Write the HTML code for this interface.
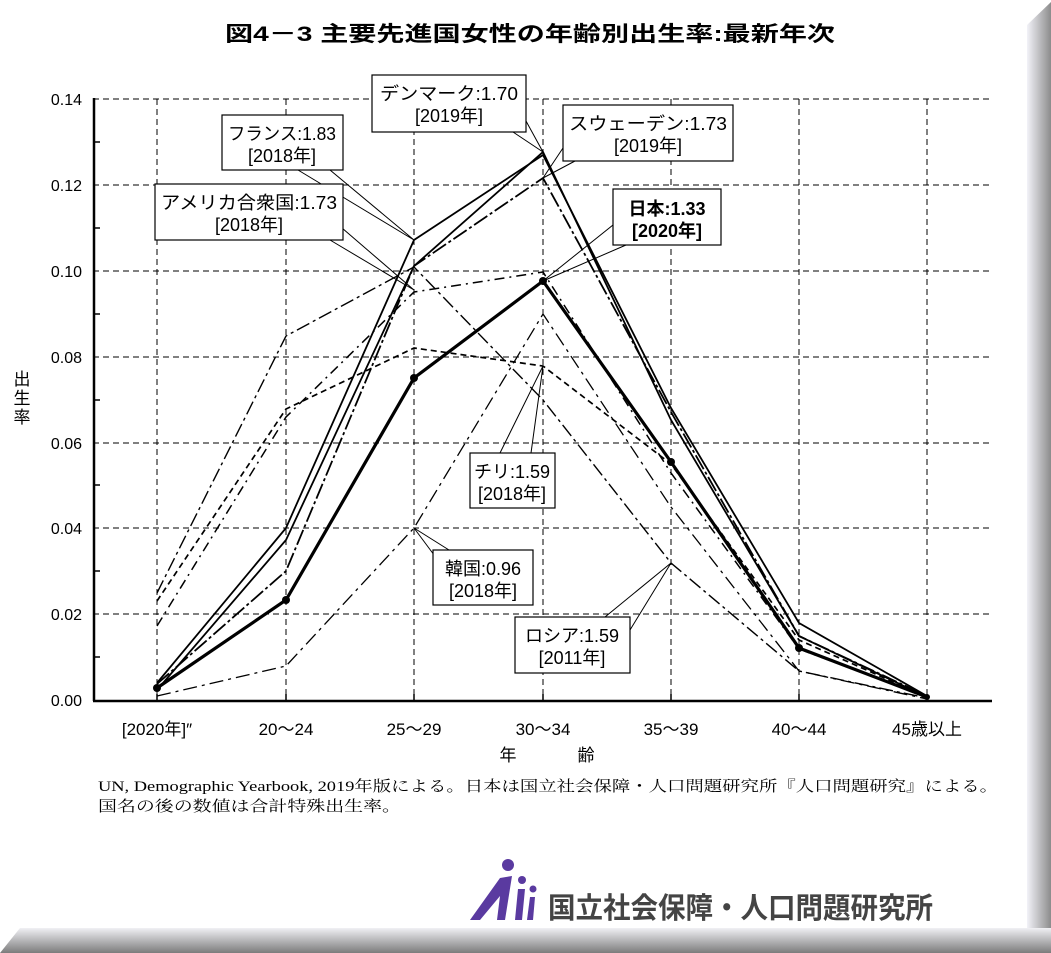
<!DOCTYPE html>
<html><head><meta charset="utf-8"><style>
html,body{margin:0;padding:0;background:#fff;}
svg{display:block;}
text{font-family:"Liberation Sans","Noto Sans CJK JP",sans-serif;fill:#000;}
</style></head><body>
<svg width="1051" height="953" viewBox="0 0 1051 953" xmlns="http://www.w3.org/2000/svg">
<defs>
<linearGradient id="gr" x1="0" x2="1" y1="0" y2="0">
<stop offset="0" stop-color="#f2f2f8"/><stop offset="1" stop-color="#8c8c8c"/></linearGradient>
<linearGradient id="gb" x1="0" x2="0" y1="0" y2="1">
<stop offset="0" stop-color="#f0f0f4"/><stop offset="1" stop-color="#7c7c7c"/></linearGradient>
</defs>
<rect width="1051" height="953" fill="#fff"/>
<polygon points="1027,25 1051,2 1051,953 1027,953" fill="url(#gr)"/>
<polygon points="20,928 1051,928 1051,953 0,953" fill="url(#gb)"/>

<text x="225" y="41" font-size="21" font-weight="bold" textLength="610" lengthAdjust="spacingAndGlyphs">図4－3 主要先進国女性の年齢別出生率:最新年次</text>

<!-- grid -->
<g stroke="#000" stroke-width="1" stroke-dasharray="6,4" fill="none">
<line x1="93" y1="99" x2="992" y2="99"/>
<line x1="93" y1="185" x2="992" y2="185"/>
<line x1="93" y1="271" x2="992" y2="271"/>
<line x1="93" y1="357" x2="992" y2="357"/>
<line x1="93" y1="443" x2="992" y2="443"/>
<line x1="93" y1="528" x2="992" y2="528"/>
<line x1="93" y1="614" x2="992" y2="614"/>
<line x1="157" y1="99" x2="157" y2="700"/>
<line x1="286" y1="99" x2="286" y2="700"/>
<line x1="414" y1="99" x2="414" y2="700"/>
<line x1="543" y1="99" x2="543" y2="700"/>
<line x1="671" y1="99" x2="671" y2="700"/>
<line x1="799" y1="99" x2="799" y2="700"/>
<line x1="927" y1="99" x2="927" y2="700"/>
</g>
<g stroke="#000" stroke-width="2.5">
<line x1="94" y1="98" x2="94" y2="701"/>
<line x1="93" y1="701" x2="992" y2="701"/>
</g>
<g stroke="#000" stroke-width="1.5">
<line x1="94" y1="142" x2="100" y2="142"/><line x1="94" y1="228" x2="100" y2="228"/>
<line x1="94" y1="314" x2="100" y2="314"/><line x1="94" y1="400" x2="100" y2="400"/>
<line x1="94" y1="485" x2="100" y2="485"/><line x1="94" y1="571" x2="100" y2="571"/>
<line x1="94" y1="657" x2="100" y2="657"/>
<line x1="157" y1="694" x2="157" y2="701"/><line x1="286" y1="694" x2="286" y2="701"/>
<line x1="414" y1="694" x2="414" y2="701"/><line x1="543" y1="694" x2="543" y2="701"/>
<line x1="671" y1="694" x2="671" y2="701"/><line x1="799" y1="694" x2="799" y2="701"/>
<line x1="927" y1="694" x2="927" y2="701"/>
</g>
<g font-size="16" text-anchor="end">
<text x="82" y="105">0.14</text><text x="82" y="191">0.12</text><text x="82" y="277">0.10</text>
<text x="82" y="363">0.08</text><text x="82" y="449">0.06</text><text x="82" y="534">0.04</text>
<text x="82" y="620">0.02</text><text x="82" y="706">0.00</text>
</g>
<g font-size="17" text-anchor="middle">
<text x="157" y="735">[2020年]″</text><text x="286" y="735">20～24</text><text x="414" y="735">25～29</text>
<text x="543" y="735">30～34</text><text x="671" y="735">35～39</text><text x="799" y="735">40～44</text>
<text x="927" y="735">45歳以上</text>
<text x="508" y="761">年</text><text x="586" y="761">齢</text>
</g>
<g font-size="17" text-anchor="middle">
<text x="22" y="385">出</text><text x="22" y="404">生</text><text x="22" y="423">率</text>
</g>

<!-- series -->
<g fill="none" stroke="#000" stroke-linejoin="miter">
<polyline points="157,593 286,336 414,267 543,400 671,563 799,671 927,698" stroke-width="1.4" stroke-dasharray="14,4,3,4"/>
<polyline points="157,601 286,409 414,348 543,366 671,464 799,640 927,697" stroke-width="1.7" stroke-dasharray="6,4"/>
<polyline points="157,626 286,417 414,292 543,272 671,473 799,649 927,697" stroke-width="1.5" stroke-dasharray="10,5,2,5"/>
<polyline points="157,696 286,666 414,528 543,314 671,507 799,671 927,699" stroke-width="1.3" stroke-dasharray="14,5,3,5"/>
<polyline points="157,684 286,571 414,266 543,178 671,412 799,636 927,696" stroke-width="1.8" stroke-dasharray="16,3,3,3"/>
<polyline points="157,683 286,528 414,240 543,155 671,408 799,623 927,696" stroke-width="1.8"/>
<polyline points="157,690 286,540 414,266 543,152 671,420 799,636 927,697" stroke-width="1.8"/>
<polyline points="157,688 286,600 414,378 543,281 671,462 799,648 927,697" stroke-width="3.2"/>
</g>
<g fill="#000">
<circle cx="157" cy="688" r="4"/><circle cx="286" cy="600" r="4"/><circle cx="414" cy="378" r="4"/>
<circle cx="543" cy="281" r="4"/><circle cx="671" cy="462" r="4"/><circle cx="799" cy="648" r="4"/><circle cx="927" cy="697" r="3"/>
</g>

<!-- callouts -->
<g stroke="#000" stroke-width="1" fill="none">
<polyline points="513,132 543,152 526,121"/>
<polyline points="298,170 414,240 330,170"/>
<polyline points="563,148 543,178 575,161"/>
<polyline points="613,225 543,281 626,245"/>
<polyline points="330,240 414,290 342,228"/>
<polyline points="500,453 543,366 531,453"/>
<polyline points="449,550 414,528 446,571"/>
<polyline points="605,617 671,563 630,630"/>
</g>
<g fill="#fff" stroke="#000" stroke-width="1.2">
<rect x="372" y="75" width="154" height="57"/>
<rect x="222" y="115" width="121" height="55"/>
<rect x="563" y="105" width="170" height="56"/>
<rect x="613" y="189" width="108" height="56"/>
<rect x="155" y="184" width="188" height="56"/>
<rect x="470" y="453" width="85" height="55"/>
<rect x="433" y="550" width="100" height="55"/>
<rect x="515" y="617" width="115" height="56"/>
</g>
<g font-size="18" text-anchor="middle">
<text x="449" y="100" textLength="138" lengthAdjust="spacingAndGlyphs">デンマーク:1.70</text><text x="449" y="122">[2019年]</text>
<text x="282" y="140" textLength="108" lengthAdjust="spacingAndGlyphs">フランス:1.83</text><text x="282" y="162">[2018年]</text>
<text x="648" y="130" textLength="158" lengthAdjust="spacingAndGlyphs">スウェーデン:1.73</text><text x="648" y="152">[2019年]</text>
<text x="249" y="209" textLength="176" lengthAdjust="spacingAndGlyphs">アメリカ合衆国:1.73</text><text x="249" y="231">[2018年]</text>
<text x="512" y="478">チリ:1.59</text><text x="512" y="500">[2018年]</text>
<text x="483" y="575">韓国:0.96</text><text x="483" y="597">[2018年]</text>
<text x="572" y="642">ロシア:1.59</text><text x="572" y="664">[2011年]</text>
</g>
<g font-size="18" font-weight="bold" text-anchor="middle">
<text x="667" y="215">日本:1.33</text><text x="667" y="237">[2020年]</text>
</g>

<text x="98" y="791" font-size="15" textLength="900" lengthAdjust="spacingAndGlyphs" style="font-family:'Liberation Serif','Noto Serif CJK SC',serif">UN, Demographic Yearbook, 2019年版による。日本は国立社会保障・人口問題研究所『人口問題研究』による。</text>
<text x="98" y="811" font-size="15" textLength="303" lengthAdjust="spacingAndGlyphs" style="font-family:'Liberation Serif','Noto Serif CJK SC',serif">国名の後の数値は合計特殊出生率。</text>

<!-- logo -->
<g fill="#5a3aa0">
<circle cx="508" cy="865" r="6"/>
<path d="M470,920 L500,878 L512,876 L505,920 L497,920 L500,896 L480,920 Z"/>
<circle cx="522" cy="880" r="4"/>
<path d="M515,920 L518,889 L525,889 L522,920 Z"/>
<circle cx="533" cy="889" r="3.5"/>
<path d="M527,920 L530,897 L535,897 L533,920 Z"/>
</g>
<text x="548" y="918" font-size="29" font-weight="bold" textLength="385" lengthAdjust="spacingAndGlyphs" style="fill:#444">国立社会保障・人口問題研究所</text>
</svg>
</body></html>
